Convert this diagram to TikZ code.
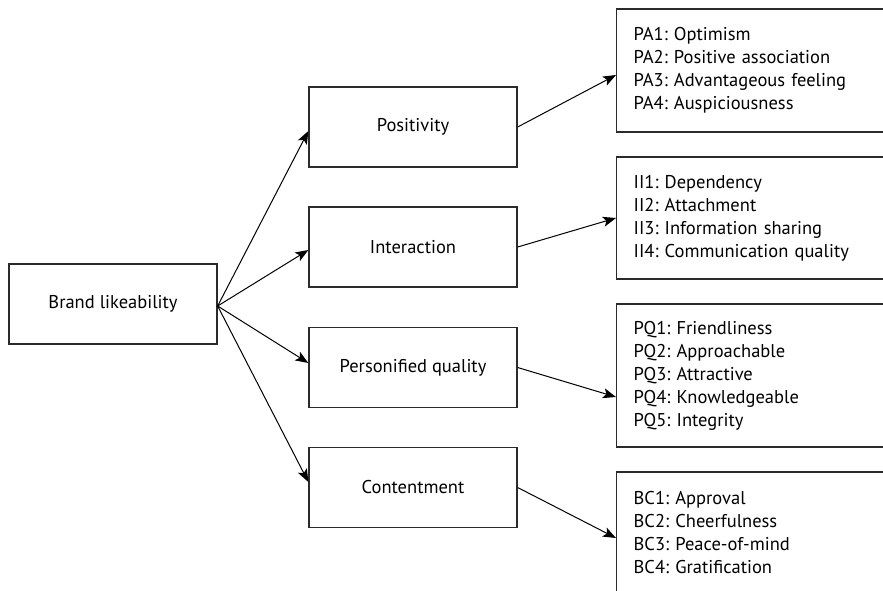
\documentclass[tikz,border=0pt]{standalone}
\usepackage{fontspec}
\setmainfont{PT Sans}
\frenchspacing
\usetikzlibrary{arrows.meta,positioning,calc}
\definecolor{boxline}{HTML}{2B2B2B}
\begin{document}
\begin{tikzpicture}[x=1pt,y=-1pt,
  >={Stealth[length=13pt,width=10pt,inset=3pt]},
  b/.style={draw=boxline,line width=1.3pt,minimum width=208pt,minimum height=80pt,
            inner sep=0pt,font=\fontsize{18.5}{21}\selectfont},
  l/.style={draw=boxline,line width=1.3pt,anchor=west,align=left,text width=270pt,
            inner xsep=17pt,font=\fontsize{18.5}{23}\selectfont},
  a/.style={->,line width=1pt,black}]
\useasboundingbox (0,0) rectangle (883,590);
\clip (0,0) rectangle (883,590);
\node[b] (bl) at (113,304) {Brand likeability};
\node[b] (pos) at (413,127) {Positivity};
\node[b] (int) at (413,247) {Interaction};
\node[b] (pq) at (413,367.5) {Personified quality};
\node[b] (con) at (413,487.5) {Contentment};
% item lists, cut at the right edge
\node[l,minimum height=123pt] (pa) at (616,70.5)
  {PA1: Optimism\\PA2: Positive association\\PA3: Advantageous feeling\\PA4: Auspiciousness};
\node[l,minimum height=122pt] (ii) at (616,218)
  {II1: Dependency\\II2: Attachment\\II3: Information sharing\\II4: Communication quality};
\node[l,minimum height=143pt] (pql) at (616,375.5)
  {PQ1: Friendliness\\PQ2: Approachable\\PQ3: Attractive\\PQ4: Knowledgeable\\PQ5: Integrity};
\node[l,minimum height=122pt] (bc) at (616,533)
  {BC1: Approval\\BC2: Cheerfulness\\BC3: Peace-of-mind\\BC4: Gratification};
\draw[a] ([yshift=-2pt]bl.east) -- ([yshift=-4pt]pos.west);
\draw[a] ([yshift=-2pt]bl.east) -- ([yshift=-3pt]int.west);
\draw[a] ([yshift=-2pt]bl.east) -- ([yshift=4.5pt]pq.west);
\draw[a] ([yshift=-2pt]bl.east) -- ([yshift=5.5pt]con.west);
\draw[a] (pos.east) -- ([yshift=-4.5pt]pa.west);
\draw[a] (int.east) -- (ii.west);
\draw[a] (pq.east) -- ([yshift=-21.5pt]pql.west);
\draw[a] (con.east) -- ([yshift=-5pt]bc.west);
\end{tikzpicture}
\end{document}
